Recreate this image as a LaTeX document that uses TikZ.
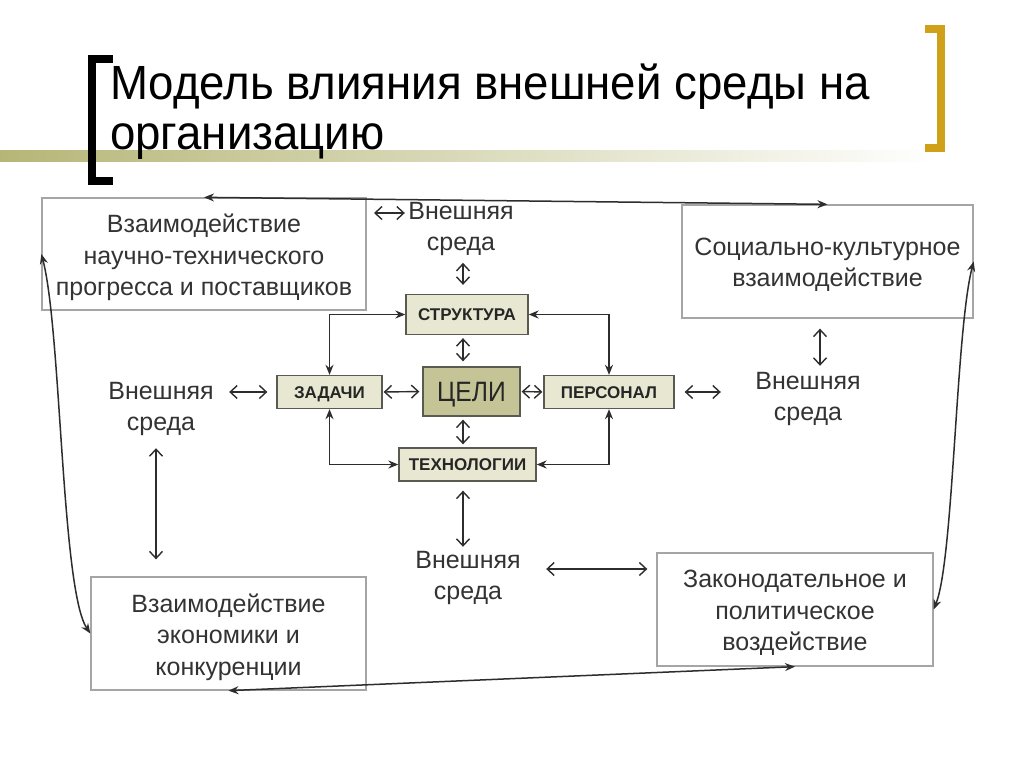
\documentclass[tikz,border=0pt]{standalone}
\usepackage{fontspec}
\setmainfont{Liberation Sans}
\newfontfamily\titlefont[FakeStretch=0.95]{Liberation Sans}
\newfontfamily\goalfont[FakeStretch=0.88]{Liberation Sans}
\usetikzlibrary{arrows.meta,positioning}

\definecolor{textgray}{RGB}{51,51,51}
\definecolor{linegray}{RGB}{45,45,45}
\definecolor{boxgray}{RGB}{165,165,165}
\definecolor{coreedge}{RGB}{90,90,80}
\definecolor{corefill}{RGB}{232,232,210}
\definecolor{goalfill}{RGB}{196,196,150}
\definecolor{bandolive}{RGB}{182,182,120}
\definecolor{bracketgold}{RGB}{208,160,24}

\tikzset{
  outerbox/.style={draw=boxgray, line width=1.3pt, inner sep=0pt},
  outertext/.style={align=center, inner sep=0pt, yshift=-3.5pt, text=textgray,
    font=\fontsize{25}{31.5}\selectfont},
  corebox/.style={draw=coreedge, fill=corefill, line width=1.3pt, inner sep=0pt,
    text height=12pt, text depth=0pt, text=black!85,
    font=\bfseries\fontsize{17}{19}\selectfont},
  goalbox/.style={corebox, fill=goalfill, text height=20pt,
    font=\goalfont\fontsize{28}{30}\selectfont},
  envtext/.style={align=center, text=textgray, font=\fontsize{25}{31}\selectfont},
  linkarrow/.style={{Stealth[length=10pt,width=8pt]}-{Stealth[length=10pt,width=8pt]},
    line width=1.7pt, draw=linegray},
  envarrow/.style={{Straight Barb[length=7pt,width=13pt]}-{Straight Barb[length=7pt,width=13pt]},
    line width=1.4pt, draw=linegray},
  farlink/.style={linkarrow, line width=1.5pt},
  titletext/.style={inner sep=0pt, font=\titlefont\fontsize{48}{50}\selectfont},
}

\begin{document}
\begin{tikzpicture}[x=1pt,y=-1pt]
  \fill[white] (0,0) rectangle (1024,767);
  \useasboundingbox (0,0) rectangle (1024,767);

  % title
  \shade[left color=bandolive, right color=white] (0,151) rectangle (940,162);
  \draw[line width=8pt] (113,59) -- (92,59) -- (92,181) -- (113,181);
  \draw[bracketgold, line width=8pt] (925,29) -- (941,29) -- (941,148) -- (925,148);
  \node[titletext, anchor=base west] (title1) at (110,100) {Модель влияния внешней среды на};
  \node[titletext, anchor=base west] (title2) at (110,150) {организацию};

  % outer boxes
  \node[outerbox, minimum width=324pt, minimum height=112pt,
    label={[outertext]center:Взаимодействие\\научно-технического\\прогресса и поставщиков}]
    (progress) at (204,254) {};
  \node[outerbox, minimum width=291pt, minimum height=113pt,
    label={[outertext]center:Социально-культурное\\взаимодействие}]
    (social) at (827.5,261.5) {};
  \node[outerbox, minimum width=275pt, minimum height=113pt,
    label={[outertext]center:Взаимодействие\\экономики и\\конкуренции}]
    (economy) at (228.5,633.5) {};
  \node[outerbox, minimum width=276pt, minimum height=113pt,
    label={[outertext]center:Законодательное и\\политическое\\воздействие}]
    (law) at (795,609.5) {};

  % core
  \node[corebox, minimum width=122pt, minimum height=40pt] (structure) at (467,314.5) {СТРУКТУРА};
  \node[corebox, minimum width=105pt, minimum height=33pt] (tasks) at (329.5,392) {ЗАДАЧИ};
  \node[goalbox, minimum width=97pt, minimum height=49pt] (goals) at (471.5,391.5) {ЦЕЛИ};
  \node[corebox, minimum width=130pt, minimum height=33pt] (staff) at (609,392) {ПЕРСОНАЛ};
  \node[corebox, minimum width=137pt, minimum height=33pt] (technology) at (467.5,464.5) {ТЕХНОЛОГИИ};

  % environment
  \node[envtext] (envtop) at (461,229) {Внешняя\\среда};
  \node[envtext] (envleft) at (161,409) {Внешняя\\среда};
  \node[envtext] (envright) at (808,399) {Внешняя\\среда};
  \node[envtext] (envbottom) at (468,578) {Внешняя\\среда};

  \coordinate (axis) at (463,0);
  \coordinate (leftaxis) at (156,0);
  \coordinate (rightaxis) at (820,0);
  \coordinate (toplead) at (374,213);
  \coordinate (botlead) at ([yshift=9pt]envbottom.east);

  \draw[linkarrow] (tasks.north) |- (structure.west);
  \draw[linkarrow] (staff.north) |- (structure.east);
  \draw[linkarrow] (tasks.south) |- (technology.west);
  \draw[linkarrow] (staff.south) |- (technology.east);
  \draw[envarrow, shorten <=3pt, shorten >=1pt] (goals.west) -- (tasks.east);
  \draw[envarrow, shorten <=1pt, shorten >=1pt] (goals.east) -- (staff.west);
  \draw[envarrow, shorten <=5pt, shorten >=3pt] (axis |- goals.north) -- (axis |- structure.south);
  \draw[envarrow, shorten <=3pt, shorten >=3pt] (axis |- goals.south) -- (axis |- technology.north);

  \draw[envarrow] (toplead) -- (toplead -| envtop.west);
  \draw[envarrow, shorten <=9pt] (axis |- structure.north) -- ++(0,-31);
  \draw[envarrow, shorten <=12pt, shorten >=9pt] (envleft.east |- tasks.west) -- (tasks.west);
  \draw[envarrow, shorten <=9pt, shorten >=17pt] (leftaxis |- envleft.south) -- (leftaxis |- economy.north);
  \draw[envarrow, shorten <=10pt, shorten >=31pt] (staff.east) -- (staff.east -| envright.west);
  \draw[envarrow, shorten <=10pt, shorten >=3pt] (rightaxis |- social.south) -- (rightaxis |- envright.north);
  \draw[envarrow, shorten <=9pt, shorten >=1pt] (axis |- technology.south) -- (axis |- envbottom.north);
  \draw[envarrow, shorten <=22pt, shorten >=9pt] (botlead) -- (botlead -| law.west);

  % long links between outer boxes
  \draw[farlink] (progress.north) -- (social.north);
  \draw[farlink] (economy.south) -- (law.south);
  \draw[farlink] (progress.west) .. controls +(20,76) and +(-29,-43) .. (economy.west);
  \draw[farlink] (social.east) .. controls +(-18,70) and +(20,-50) .. (law.east);
\end{tikzpicture}
\end{document}
